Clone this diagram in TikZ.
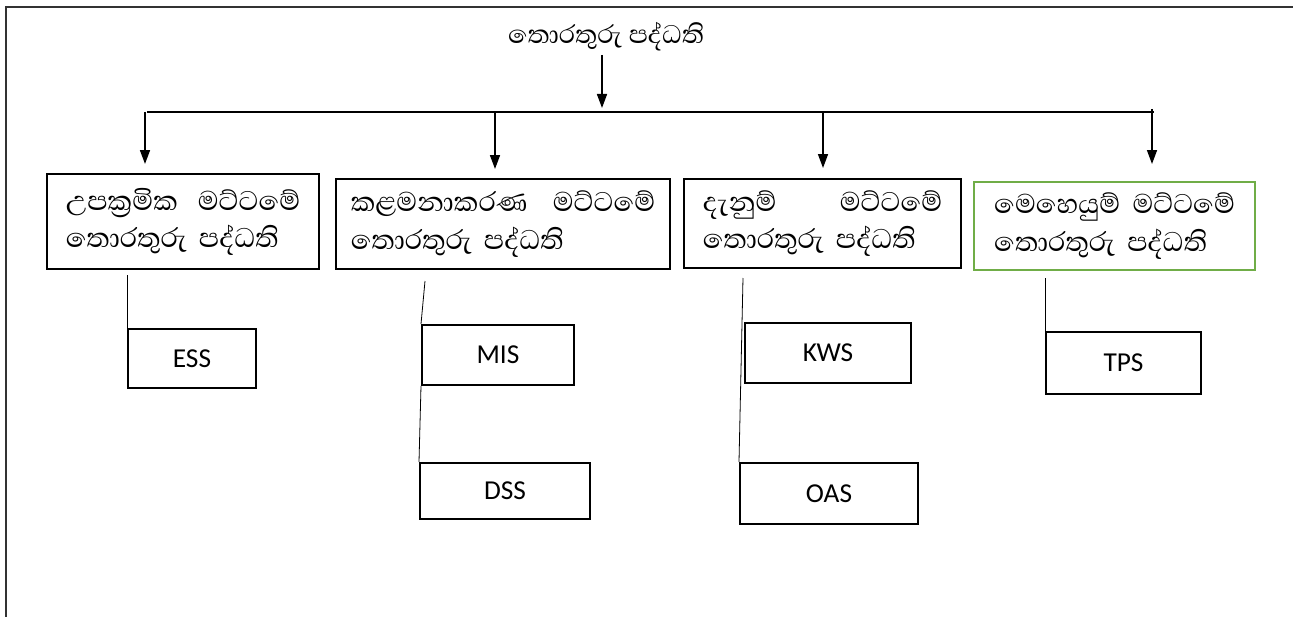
\documentclass[tikz,border=0pt]{standalone}
\usepackage{fontspec}
\setmainfont{Carlito}
\newfontfamily\sinhalafnt[Script=Sinhala]{Abhaya Libre}
\usetikzlibrary{arrows.meta}
\definecolor{framegray}{RGB}{50,50,50}
\definecolor{offgreen}{RGB}{112,173,71}
\tikzset{
  bigbox/.style={draw=black, line width=1.7pt, align=left, anchor=north west,
    font=\sinhalafnt\fontsize{26}{28}\selectfont, inner ysep=0pt},
  subbox/.style={draw=black, line width=1.5pt, anchor=north west, inner sep=0pt,
    font=\fontsize{20.5}{22}\selectfont},
  conn/.style={line width=0.6pt},
  arr/.style={line width=1.2pt, -{Triangle[length=10.5pt,width=7.5pt]}},
  framel/.style={draw=framegray, line width=1.1pt},
}
\newcommand{\justline}[2]{\hbox to \linewidth{#1\hfill #2}}
\begin{document}
\begin{tikzpicture}[x=0.75pt, y=-0.75pt]
\useasboundingbox (0,0) rectangle (1293,617);
\draw[framel] (6,617) -- (6,7) -- (1293,7);

% title
\node[font=\sinhalafnt\fontsize{24.5}{28}\selectfont, anchor=base, inner sep=0pt] (title) at (606,44) {තොරතුරු පද්ධති};

% main boxes
\node[bigbox, minimum height=71.25pt, text width=176pt, inner xsep=14pt] (b1) at (46,173)
  {\justline{උපක්‍රමික}{මට්ටමේ}\\\mbox{තොරතුරු පද්ධති}};
\node[bigbox, minimum height=67.5pt, text width=228.5pt, inner xsep=11pt] (b2) at (335,178)
  {\justline{කළමනාකරණ}{මට්ටමේ}\\\mbox{තොරතුරු පද්ධති}};
\node[bigbox, minimum height=66.75pt, text width=179.75pt, inner xsep=14pt] (b3) at (683,178)
  {\justline{දැනුම්}{මට්ටමේ}\\\mbox{තොරතුරු පද්ධති}};
\node[bigbox, draw=offgreen, minimum height=66pt, text width=180.75pt, inner xsep=15pt] (b4) at (973,181)
  {\justline{මෙහෙයුම්}{මට්ටමේ}\\\mbox{තොරතුරු පද්ධති}};

% sub boxes
\node[subbox, minimum width=96pt, minimum height=44.25pt] (ess) at (127,328) {ESS};
\node[subbox, minimum width=114pt, minimum height=45pt] (mis) at (421,324) {MIS};
\node[subbox, minimum width=127.5pt, minimum height=42pt] (dss) at (419,462) {DSS};
\node[subbox, minimum width=124.5pt, minimum height=45pt] (kws) at (744,322) {KWS};
\node[subbox, minimum width=133.5pt, minimum height=45.75pt] (oas) at (739,462) {OAS};
\node[subbox, minimum width=116.25pt, minimum height=46.5pt] (tps) at (1045,331) {TPS};

% distribution bar and arrows
\coordinate (a0) at (602,55);
\coordinate (hl) at (147,112);
\coordinate (hr) at (1154,112);
\draw[line width=1.5pt] (hl) -- (hr);
\draw[arr, shorten >=3pt] (a0) -- (a0 |- hl);
\coordinate (d1) at (145,112);
\coordinate (d2) at (495,112);
\coordinate (d3) at (823,112);
\coordinate (d4) at (1152,109);
\draw[arr, shorten >=6.75pt] (d1) -- (d1 |- b1.north);
\draw[arr, shorten >=6.75pt] (d2) -- (d2 |- b2.north);
\draw[arr, shorten >=7.5pt] (d3) -- (d3 |- b3.north);
\draw[arr, shorten >=12.75pt] (d4) -- (d4 |- b4.north);

% thin connectors
\coordinate (e0) at (127,275);
\coordinate (m0) at (425,281);
\coordinate (k0) at (743,278);
\coordinate (p0) at (1045,278);
\draw[conn] (e0) -- (ess.north west);
\draw[conn] (m0) -- (mis.north west);
\draw[conn] (mis.south west) -- (dss.north west);
\draw[conn] (k0) -- (oas.north west);
\draw[conn] (p0) -- (tps.north west);
\end{tikzpicture}
\end{document}
